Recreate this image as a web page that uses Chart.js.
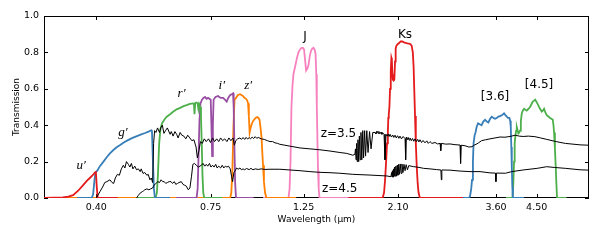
<!DOCTYPE html>
<html>
<head>
<meta charset="utf-8">
<script src="https://cdn.jsdelivr.net/npm/chart.js@4.4.1/dist/chart.umd.min.js"></script>
<style>
  html, body { margin: 0; padding: 0; background: #fff; }
</style>
</head>
<body>
<canvas id="chart" width="600" height="240"></canvas>
<script>
// axis ticks
const xTicks = [0.40, 0.75, 1.25, 2.10, 3.60, 4.50];
const yTicks = [0, 0.2, 0.4, 0.6, 0.8, 1.0];

// filter curves: [wavelength (um), transmission]
const uBand = [[0.30,0],[0.333,0.003],[0.343,0.008],[0.352,0.016],[0.362,0.04],[0.372,0.071],[0.380,0.095],[0.386,0.11],[0.392,0.125],[0.397,0.14],[0.399,0.142],[0.401,0.06],[0.403,0],[0.45,0]];
const gBand = [[0.36,0],[0.390,0],[0.393,0.02],[0.396,0.10],[0.398,0.14],[0.402,0.15],[0.408,0.175],[0.416,0.20],[0.424,0.225],[0.431,0.245],[0.440,0.265],[0.448,0.28],[0.455,0.29],[0.465,0.305],[0.476,0.318],[0.488,0.33],[0.500,0.34],[0.512,0.35],[0.523,0.357],[0.533,0.365],[0.541,0.372],[0.543,0.37],[0.546,0.2],[0.549,0.05],[0.552,0],[0.60,0]];
const rBand = [[0.50,0],[0.554,0],[0.558,0.03],[0.561,0.12],[0.565,0.3],[0.569,0.38],[0.574,0.41],[0.581,0.43],[0.589,0.447],[0.600,0.46],[0.610,0.474],[0.622,0.487],[0.634,0.495],[0.646,0.505],[0.657,0.51],[0.669,0.517],[0.681,0.52],[0.684,0.518],[0.686,0.46],[0.689,0.522],[0.693,0.525],[0.698,0.52],[0.701,0.49],[0.704,0.515],[0.708,0.50],[0.711,0.45],[0.714,0.3],[0.717,0.12],[0.720,0.03],[0.724,0],[0.80,0]];
const iBand = [[0.62,0],[0.694,0],[0.698,0.05],[0.701,0.2],[0.705,0.42],[0.709,0.52],[0.715,0.54],[0.721,0.55],[0.727,0.555],[0.733,0.545],[0.739,0.55],[0.745,0.545],[0.750,0.54],[0.753,0.40],[0.756,0.23],[0.759,0.40],[0.762,0.54],[0.770,0.555],[0.781,0.56],[0.792,0.55],[0.803,0.55],[0.811,0.54],[0.819,0.53],[0.826,0.55],[0.834,0.565],[0.842,0.57],[0.848,0.575],[0.851,0.5],[0.855,0.25],[0.858,0.08],[0.862,0],[0.95,0]];
const zBand = [[0.30,0],[0.835,0],[0.840,0.03],[0.845,0.15],[0.850,0.4],[0.855,0.54],[0.862,0.55],[0.870,0.565],[0.881,0.57],[0.890,0.565],[0.896,0.56],[0.903,0.55],[0.911,0.545],[0.917,0.535],[0.921,0.52],[0.925,0.45],[0.929,0.36],[0.933,0.38],[0.938,0.40],[0.945,0.42],[0.952,0.43],[0.960,0.44],[0.968,0.445],[0.975,0.44],[0.981,0.43],[0.986,0.39],[0.992,0.33],[0.996,0.25],[1.000,0.18],[1.005,0.09],[1.011,0.03],[1.019,0],[1.2,0]];
const jBand = [[1.0,0],[1.150,0],[1.157,0.05],[1.163,0.2],[1.169,0.5],[1.176,0.62],[1.182,0.68],[1.195,0.73],[1.205,0.77],[1.215,0.8],[1.225,0.815],[1.236,0.825],[1.245,0.825],[1.253,0.815],[1.260,0.76],[1.267,0.70],[1.275,0.71],[1.284,0.73],[1.293,0.78],[1.302,0.81],[1.311,0.82],[1.320,0.825],[1.328,0.815],[1.335,0.79],[1.340,0.68],[1.344,0.5],[1.349,0.3],[1.353,0.15],[1.358,0.05],[1.364,0],[1.6,0]];
const ksBand = [[1.6,0],[1.930,0],[1.945,0.03],[1.956,0.1],[1.967,0.2],[1.977,0.3],[1.986,0.36],[1.991,0.44],[1.996,0.46],[2.003,0.5],[2.010,0.6],[2.018,0.7],[2.025,0.77],[2.030,0.76],[2.036,0.68],[2.041,0.65],[2.050,0.645],[2.058,0.65],[2.066,0.75],[2.073,0.82],[2.080,0.835],[2.095,0.845],[2.110,0.85],[2.130,0.86],[2.150,0.86],[2.170,0.855],[2.190,0.853],[2.210,0.85],[2.230,0.848],[2.250,0.845],[2.265,0.835],[2.278,0.80],[2.288,0.72],[2.296,0.6],[2.306,0.45],[2.316,0.3],[2.328,0.17],[2.340,0.08],[2.351,0.03],[2.365,0.005],[2.38,0],[3.0,0]];
const ch1Band = [[3.0,0],[3.10,0],[3.12,0.01],[3.14,0.05],[3.155,0.1],[3.17,0.2],[3.181,0.3],[3.20,0.345],[3.216,0.36],[3.235,0.39],[3.261,0.41],[3.29,0.405],[3.324,0.40],[3.355,0.42],[3.389,0.43],[3.42,0.42],[3.451,0.415],[3.485,0.435],[3.516,0.447],[3.55,0.44],[3.58,0.435],[3.613,0.44],[3.646,0.447],[3.68,0.45],[3.715,0.455],[3.74,0.46],[3.762,0.465],[3.79,0.455],[3.818,0.447],[3.845,0.44],[3.873,0.44],[3.89,0.425],[3.903,0.39],[3.915,0.28],[3.925,0.17],[3.937,0.06],[3.948,0],[4.2,0]];
const ch2Band = [[3.8,0],[3.94,0],[3.958,0.08],[3.974,0.2],[3.988,0.3],[4.003,0.34],[4.02,0.37],[4.034,0.39],[4.05,0.375],[4.07,0.355],[4.09,0.36],[4.108,0.37],[4.125,0.42],[4.146,0.465],[4.17,0.48],[4.199,0.49],[4.23,0.485],[4.262,0.48],[4.30,0.49],[4.340,0.50],[4.372,0.515],[4.405,0.53],[4.435,0.535],[4.461,0.54],[4.49,0.53],[4.517,0.52],[4.55,0.505],[4.585,0.49],[4.628,0.475],[4.655,0.48],[4.687,0.49],[4.72,0.47],[4.757,0.455],[4.80,0.448],[4.844,0.44],[4.88,0.435],[4.917,0.43],[4.935,0.4],[4.952,0.36],[4.975,0.27],[4.998,0.17],[5.015,0.08],[5.034,0],[5.3,0]];

// galaxy spectra at z=3.5 and z=4.5 (arbitrary flux)
const specZ35 = [[0.400,0],[0.408,0.035],[0.414,0.06],[0.419,0.085],[0.424,0.09],[0.431,0.10],[0.436,0.085],[0.440,0.08],[0.444,0.11],[0.449,0.13],[0.454,0.125],[0.459,0.16],[0.464,0.18],[0.468,0.165],[0.472,0.20],[0.477,0.185],[0.481,0.17],[0.485,0.19],[0.489,0.16],[0.494,0.175],[0.499,0.155],[0.504,0.16],[0.509,0.145],[0.512,0.16],[0.517,0.135],[0.522,0.14],[0.528,0.125],[0.532,0.13],[0.537,0.10],[0.541,0.11],[0.545,0.085],
  [0.548,0.30],[0.551,0.37],[0.555,0.36],[0.560,0.385],[0.566,0.36],[0.571,0.39],[0.575,0.40],[0.580,0.355],[0.585,0.37],[0.591,0.385],[0.600,0.35],[0.604,0.365],[0.610,0.34],[0.616,0.365],[0.622,0.35],[0.627,0.33],[0.634,0.36],[0.640,0.345],[0.647,0.34],[0.654,0.325],[0.661,0.345],[0.669,0.33],[0.676,0.315],[0.684,0.32],[0.692,0.28],[0.697,0.22],[0.703,0.26],[0.709,0.31],[0.716,0.30],[0.724,0.325],[0.732,0.31],[0.741,0.325],[0.749,0.305],[0.758,0.33],[0.766,0.31],[0.775,0.325],[0.784,0.31],[0.792,0.33],[0.801,0.315],[0.810,0.325],[0.820,0.31],[0.829,0.33],[0.838,0.315],[0.848,0.33],[0.854,0.29],[0.861,0.315],[0.870,0.325],[0.881,0.33],[0.888,0.322],[0.896,0.332],[0.904,0.322],[0.911,0.333],[0.919,0.324],[0.927,0.332],[0.934,0.325],[0.942,0.335],[0.950,0.327],[0.958,0.337],[0.966,0.328],[0.974,0.333],[0.990,0.325],[1.007,0.322],[1.024,0.315],[1.039,0.31],[1.054,0.31],[1.068,0.303],[1.083,0.3],[1.097,0.295],[1.128,0.29],[1.159,0.285],[1.225,0.275],[1.294,0.27],[1.367,0.265],[1.445,0.258],[1.526,0.25],[1.585,0.245],[1.638,0.235],[1.657,0.24],
  [1.662,0.27],[1.667,0.21],[1.673,0.30],[1.679,0.20],[1.685,0.32],[1.692,0.20],[1.698,0.34],[1.706,0.21],[1.713,0.36],[1.721,0.21],[1.730,0.37],[1.738,0.22],[1.748,0.37],[1.757,0.23],[1.769,0.37],[1.781,0.25],[1.796,0.365],[1.811,0.27],[1.828,0.36],
  [1.851,0.36],[1.860,0.352],[1.870,0.368],[1.882,0.355],[1.890,0.366],[1.900,0.352],[1.913,0.362],[1.922,0.35],[1.930,0.358],[1.945,0.35],[1.955,0.21],[1.966,0.35],[1.978,0.34],[1.990,0.352],[2.000,0.338],[2.010,0.35],[2.025,0.335],[2.040,0.346],[2.052,0.333],[2.066,0.345],[2.080,0.33],[2.095,0.342],[2.110,0.328],[2.123,0.34],[2.140,0.325],[2.160,0.338],[2.183,0.326],[2.190,0.21],[2.198,0.335],[2.210,0.32],[2.220,0.333],[2.232,0.318],[2.243,0.33],[2.260,0.315],[2.275,0.327],[2.290,0.312],[2.306,0.325],[2.322,0.31],[2.340,0.322],[2.355,0.308],[2.370,0.32],[2.390,0.305],[2.410,0.316],[2.436,0.303],[2.460,0.314],[2.480,0.3],[2.504,0.31],[2.530,0.3],[2.574,0.305],[2.610,0.297],[2.646,0.30],[2.656,0.26],[2.666,0.30],[2.730,0.296],[2.795,0.297],[2.873,0.293],[2.953,0.291],[2.962,0.19],[2.972,0.29],[3.036,0.287],[3.100,0.28],[3.155,0.282],[3.190,0.29],[3.225,0.295],[3.270,0.303],[3.324,0.315],[3.400,0.32],[3.482,0.325],[3.580,0.33],[3.679,0.335],[3.780,0.334],[3.887,0.338],[3.999,0.345],[4.090,0.34],[4.178,0.338],[4.300,0.34],[4.456,0.337],[4.600,0.33],[4.757,0.322],[5.006,0.31],[5.268,0.30],[5.711,0.292],[6.0,0.29]];
const specZ45 = [[0.499,0],[0.504,0.015],[0.509,0.027],[0.515,0.035],[0.519,0.04],[0.522,0.045],[0.528,0.05],[0.534,0.045],[0.539,0.05],[0.545,0.055],[0.549,0.07],[0.555,0.08],[0.561,0.09],[0.566,0.085],[0.571,0.10],[0.576,0.09],[0.581,0.09],[0.586,0.08],[0.591,0.085],[0.597,0.09],[0.603,0.09],[0.608,0.08],[0.614,0.09],[0.619,0.075],[0.625,0.08],[0.630,0.085],[0.638,0.09],[0.644,0.075],[0.650,0.07],[0.656,0.065],[0.663,0.045],[0.669,0.055],
  [0.675,0.12],[0.680,0.185],[0.686,0.19],[0.693,0.18],[0.701,0.17],[0.707,0.175],[0.713,0.18],[0.719,0.19],[0.726,0.175],[0.732,0.185],[0.738,0.175],[0.745,0.19],[0.751,0.17],[0.758,0.18],[0.764,0.17],[0.771,0.185],[0.777,0.165],[0.784,0.175],[0.792,0.165],[0.799,0.18],[0.806,0.165],[0.813,0.175],[0.820,0.17],[0.827,0.175],[0.835,0.16],[0.841,0.12],[0.846,0.09],[0.852,0.14],[0.858,0.15],[0.865,0.165],[0.872,0.158],[0.881,0.165],[0.888,0.155],[0.896,0.16],[0.904,0.155],[0.913,0.162],[0.927,0.156],[0.936,0.163],[0.946,0.155],[0.958,0.16],[0.974,0.157],[0.990,0.16],[1.011,0.157],[1.039,0.158],[1.097,0.158],[1.159,0.154],[1.225,0.15],[1.294,0.145],[1.367,0.141],[1.445,0.139],[1.526,0.136],[1.638,0.13],[1.800,0.126],[1.977,0.121],[2.020,0.117],
  [2.027,0.14],[2.032,0.115],[2.036,0.15],[2.043,0.115],[2.048,0.16],[2.055,0.12],[2.061,0.17],[2.068,0.12],[2.075,0.175],[2.083,0.12],[2.091,0.18],[2.099,0.125],[2.108,0.185],[2.117,0.13],[2.126,0.187],[2.136,0.135],[2.146,0.187],[2.158,0.14],[2.170,0.185],[2.183,0.15],[2.196,0.183],[2.212,0.155],[2.228,0.178],[2.256,0.175],[2.290,0.172],[2.328,0.17],[2.370,0.167],[2.416,0.163],[2.504,0.16],[2.596,0.156],[2.658,0.154],[2.665,0.10],[2.672,0.154],[2.795,0.153],[2.953,0.148],[3.120,0.145],[3.296,0.145],[3.482,0.138],[3.587,0.137],[3.597,0.09],[3.607,0.137],[3.790,0.136],[3.924,0.145],[4.178,0.154],[4.514,0.163],[4.757,0.172],[4.955,0.168],[5.268,0.163],[5.711,0.155],[6.0,0.153]];

// curve labels
const noteText = ['u\u2032', 'g\u2032', 'r\u2032', 'i\u2032', 'z\u2032', 'J', 'Ks', '[3.6]', '[4.5]', 'z=3.5', 'z=4.5'];
const noteWave = [0.368, 0.463, 0.639, 0.797, 0.922, 1.26, 2.183, 3.58, 4.56, 1.513, 1.524];
const noteTrans = [0.18, 0.36, 0.575, 0.62, 0.615, 0.886, 0.896, 0.553, 0.62, 0.352, 0.048];

const toXY = arr => arr.map(([x, y]) => ({x: x, y: y}));

const bandSeries = [uBand, gBand, rBand, iBand, zBand, jBand, ksBand, ch1Band, ch2Band];
const bandColors = ['#e41a1c', '#377eb8', '#4daf4a', '#984ea3', '#ff7f00', '#f781bf', '#e41a1c', '#377eb8', '#4daf4a'];

const datasets = [
  {data: toXY(specZ35), borderColor: '#000', borderWidth: 1},
  {data: toXY(specZ45), borderColor: '#000', borderWidth: 1}
];
bandSeries.forEach((b, i) => {
  datasets.push({data: toXY(b), borderColor: bandColors[i], borderWidth: 1.8});
});

// frame and inward ticks under the curves, text labels on top
const decorPlugin = {
  id: 'decor',
  beforeDatasetsDraw(chart) {
    const ctx = chart.ctx;
    const a = chart.chartArea;
    const xs = chart.scales.x, ys = chart.scales.y;
    ctx.save();
    ctx.strokeStyle = '#000';
    ctx.lineWidth = 1;
    ctx.strokeRect(a.left + 0.5, a.top + 0.5, a.right - a.left - 1, a.bottom - a.top - 1);
    ctx.beginPath();
    xTicks.forEach(v => {
      const px = Math.round(xs.getPixelForValue(v)) + 0.5;
      ctx.moveTo(px, a.bottom); ctx.lineTo(px, a.bottom - 4);
      ctx.moveTo(px, a.top); ctx.lineTo(px, a.top + 4);
    });
    yTicks.forEach(v => {
      const py = Math.round(ys.getPixelForValue(v)) + 0.5;
      ctx.moveTo(a.left, py); ctx.lineTo(a.left + 4, py);
      ctx.moveTo(a.right, py); ctx.lineTo(a.right - 4, py);
    });
    ctx.stroke();
    ctx.restore();
  },
  afterDatasetsDraw(chart) {
    const ctx = chart.ctx;
    const xs = chart.scales.x, ys = chart.scales.y;
    ctx.save();
    ctx.fillStyle = '#000';
    ctx.textAlign = 'center';
    ctx.textBaseline = 'middle';
    noteText.forEach((t, i) => {
      ctx.font = i < 5 ? 'italic 13px "Liberation Serif"' : '12px "DejaVu Sans"';
      ctx.fillText(t, xs.getPixelForValue(noteWave[i]), ys.getPixelForValue(noteTrans[i]));
    });
    ctx.restore();
  }
};

new Chart(document.getElementById('chart'), {
  type: 'line',
  data: {datasets: datasets},
  options: {
    responsive: false,
    animation: false,
    elements: {point: {radius: 0}, line: {tension: 0}},
    layout: {padding: {top: 16, right: 11, left: 0, bottom: 0}},
    plugins: {legend: {display: false}, tooltip: {enabled: false}},
    scales: {
      x: {
        type: 'logarithmic',
        min: 0.3,
        max: 6.0,
        afterBuildTicks: axis => { axis.ticks = xTicks.map(v => ({value: v})); },
        afterFit: axis => { axis.height = 42; },
        grid: {display: false, drawTicks: false},
        border: {display: false},
        ticks: {
          autoSkip: false, maxRotation: 0, padding: 4, color: '#000',
          font: {family: 'DejaVu Sans', size: 9.5},
          callback: v => Number(v).toFixed(2)
        },
        title: {
          display: true, text: 'Wavelength (\u03bcm)', color: '#000',
          font: {family: 'DejaVu Sans', size: 9}, padding: {top: 0, bottom: 15}
        }
      },
      y: {
        min: 0,
        max: 1.0,
        afterBuildTicks: axis => { axis.ticks = yTicks.map(v => ({value: v})); },
        afterFit: axis => { axis.width = 44; },
        grid: {display: false, drawTicks: false},
        border: {display: false},
        ticks: {
          padding: 5, color: '#000',
          font: {family: 'DejaVu Sans', size: 9.5},
          callback: v => Number(v).toFixed(1)
        },
        title: {
          display: true, text: 'Transmission', color: '#000',
          font: {family: 'DejaVu Sans', size: 9}, padding: {top: 11, bottom: 0}
        }
      }
    }
  },
  plugins: [decorPlugin]
});
</script>
</body>
</html>
